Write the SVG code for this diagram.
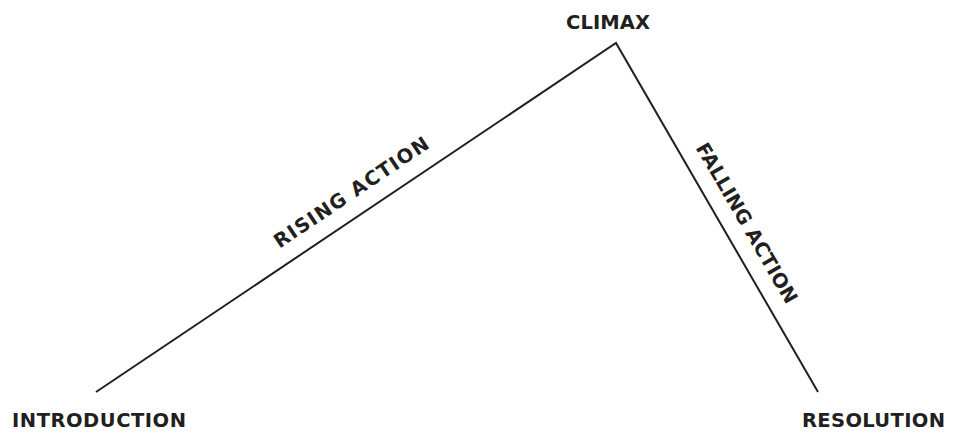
<svg xmlns="http://www.w3.org/2000/svg" width="962" height="432" viewBox="0 0 962 432">
<style>
.lbl{font-family:"DejaVu Sans","Liberation Sans",sans-serif;font-weight:bold;font-size:19.5px;fill:#231f20;text-anchor:middle}
.ln{fill:none;stroke:#231f20;stroke-width:2}
</style>
<rect width="962" height="432" fill="#ffffff"/>
<g id="connectors">
<polyline class="ln" points="96,392 616,43 818,392"/>
</g>
<g id="climax"><text class="lbl" x="608" y="29" textLength="84" lengthAdjust="spacing">CLIMAX</text></g>
<g id="introduction"><text class="lbl" x="99" y="427" textLength="174" lengthAdjust="spacing">INTRODUCTION</text></g>
<g id="resolution"><text class="lbl" x="873.5" y="427" textLength="143" lengthAdjust="spacing">RESOLUTION</text></g>
<g id="rising-action"><text class="lbl" transform="translate(355,198) rotate(-33.9)" x="0" y="0" textLength="182" lengthAdjust="spacing">RISING ACTION</text></g>
<g id="falling-action"><text class="lbl" transform="translate(741,226.5) rotate(59.9)" x="0" y="0" textLength="182" lengthAdjust="spacing">FALLING ACTION</text></g>
</svg>
